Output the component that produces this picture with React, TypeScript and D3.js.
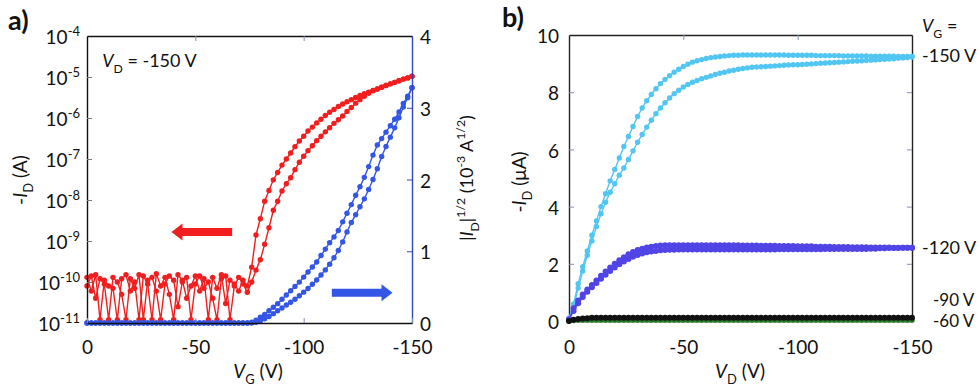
import React, { useEffect, useRef } from 'react';
import * as d3 from 'd3';

// sweep voltages (V), 2 V steps, used for V_G in a) and V_D in b)
const sweep = [
  0, -2, -4, -6, -8, -10, -12, -14, -16, -18, -20, -22, -24, -26, -28, -30, -32, -34, -36, -38,
  -40, -42, -44, -46, -48, -50, -52, -54, -56, -58, -60, -62, -64, -66, -68, -70, -72, -74, -76, -78,
  -80, -82, -84, -86, -88, -90, -92, -94, -96, -98, -100, -102, -104, -106, -108, -110, -112, -114, -116, -118,
  -120, -122, -124, -126, -128, -130, -132, -134, -136, -138, -140, -142, -144, -146, -148, -150,
];

// a) -I_D (A), forward and reverse sweeps
const idFwd = [
  1.3e-10, 6e-11, 1.5e-10, 1.2e-11, 1.1e-10, 8e-11, 7e-11, 1.2e-11, 1.2e-10, 1.5e-10, 6e-11, 1e-10, 1.2e-11,
  1.4e-10, 9e-11, 1.2e-11, 1.6e-10, 8e-11, 1.3e-10, 5e-11, 1.2e-11, 1.5e-10, 1.1e-10, 4e-11, 8e-11, 1.4e-10,
  6e-11, 1.2e-10, 1.2e-11, 1.3e-10, 7e-11, 1.5e-10, 3e-11, 1.1e-10, 9e-11, 6e-11, 1.1e-10,
  8e-11, 2.3e-10, 1.4e-9, 3.5e-9, 9.3e-9, 1.7e-8, 3.1e-8, 4.7e-8, 7.1e-8, 1.0e-7, 1.4e-7, 2.0e-7, 2.75e-7,
  3.6e-7, 4.8e-7, 6.0e-7, 7.6e-7, 9.3e-7, 1.15e-6, 1.38e-6, 1.62e-6, 1.9e-6, 2.2e-6, 2.5e-6, 2.8e-6, 3.16e-6,
  3.55e-6, 3.9e-6, 4.27e-6, 4.7e-6, 5.1e-6, 5.6e-6, 6.2e-6, 6.8e-6, 7.4e-6, 8.1e-6, 8.9e-6, 9.5e-6, 1.05e-5,
];
const idRev = [
  8e-11, 1.4e-10, 4e-11, 1.2e-10, 9e-11, 1.2e-11, 1.3e-10, 1e-10, 5e-11, 1.2e-11, 1.2e-10, 7e-11, 1.5e-10,
  1.2e-11, 1.1e-10, 1.3e-10, 6e-11, 1.2e-11, 9e-11, 1.4e-10, 1.1e-10, 2.5e-11, 1e-10, 1.3e-10, 1.2e-11, 9e-11,
  1.4e-10, 7e-11, 1e-10, 4e-11, 1.2e-11, 1.2e-10, 1.4e-10, 1.2e-11, 8e-11, 1.3e-10, 9e-11,
  5.6e-11, 1.0e-10, 1.95e-10, 3.5e-10, 8.3e-10, 2.1e-9, 5.6e-9, 9.3e-9, 1.66e-8, 2.5e-8, 3.5e-8, 5.5e-8, 8.3e-8,
  1.17e-7, 1.6e-7, 2.1e-7, 2.8e-7, 3.6e-7, 4.6e-7, 5.8e-7, 7.4e-7, 9.1e-7, 1.12e-6, 1.45e-6, 1.8e-6, 2.3e-6,
  2.8e-6, 3.4e-6, 4.0e-6, 4.6e-6, 5.1e-6, 5.6e-6, 6.2e-6, 6.8e-6, 7.4e-6, 8.1e-6, 8.9e-6, 9.5e-6, 1.05e-5,
];

// a) |I_D|^1/2 (10^-3 A^1/2)
const sqrtFwd = [
  0, 0, 0, 0, 0, 0, 0, 0, 0, 0, 0, 0, 0, 0, 0, 0, 0, 0, 0, 0, 0, 0, 0, 0, 0, 0, 0, 0, 0, 0, 0, 0, 0, 0, 0, 0, 0, 0,
  0.01, 0.04, 0.08, 0.12, 0.17, 0.22, 0.27, 0.33, 0.39, 0.45, 0.51, 0.57, 0.64, 0.71, 0.78, 0.85, 0.94, 1.03, 1.12,
  1.2, 1.29, 1.41, 1.53, 1.65, 1.78, 1.9, 2.03, 2.18, 2.34, 2.48, 2.57, 2.66, 2.75, 2.84, 2.94, 3.06, 3.16, 3.28,
];
const sqrtRev = [
  0, 0, 0, 0, 0, 0, 0, 0, 0, 0, 0, 0, 0, 0, 0, 0, 0, 0, 0, 0, 0, 0, 0, 0, 0, 0, 0, 0, 0, 0, 0, 0, 0, 0, 0, 0, 0, 0, 0,
  0.01, 0.03, 0.06, 0.09, 0.13, 0.17, 0.21, 0.25, 0.29, 0.33, 0.38, 0.43, 0.48, 0.54, 0.6, 0.67, 0.74, 0.82, 0.91,
  1.01, 1.13, 1.27, 1.4, 1.51, 1.62, 1.73, 1.86, 2.0, 2.15, 2.32, 2.46, 2.59, 2.72, 2.86, 3.01, 3.14, 3.28,
];

// b) -I_D (uA) output curves
const vg150Fwd = [
  0.1, 0.6, 1.3, 1.9, 2.45, 3.0, 3.5, 4.0, 4.45, 4.9, 5.3, 5.7, 6.1, 6.45, 6.8, 7.15, 7.45, 7.7, 7.92, 8.12,
  8.3, 8.45, 8.58, 8.7, 8.8, 8.9, 8.98, 9.05, 9.1, 9.14, 9.18, 9.21, 9.23, 9.25, 9.27, 9.28,
  9.29, 9.29, 9.3, 9.3, 9.3, 9.3, 9.3, 9.3, 9.3, 9.3, 9.3, 9.3, 9.29, 9.29, 9.29, 9.29, 9.29, 9.29, 9.28, 9.28,
  9.28, 9.28, 9.28, 9.28, 9.27, 9.27, 9.27, 9.27, 9.27, 9.27, 9.26, 9.26, 9.26, 9.26, 9.26, 9.26, 9.25, 9.25, 9.25, 9.25,
];
const vg150Rev = [
  0.05, 0.5, 1.15, 1.75, 2.3, 2.8, 3.3, 3.75, 4.15, 4.5, 4.8, 5.1, 5.35, 5.65, 5.95, 6.25, 6.52, 6.78, 7.02, 7.25,
  7.45, 7.63, 7.8, 7.95, 8.07, 8.18, 8.27, 8.35, 8.41, 8.47, 8.52, 8.57, 8.62, 8.66, 8.7, 8.74, 8.77, 8.8, 8.83, 8.85,
  8.87, 8.88, 8.89, 8.9, 8.91, 8.92, 8.93, 8.94, 8.95, 8.96, 8.96, 8.97, 8.98, 8.99, 9.0, 9.01, 9.02, 9.03, 9.04, 9.05,
  9.06, 9.07, 9.08, 9.09, 9.1, 9.11, 9.12, 9.13, 9.14, 9.15, 9.16, 9.17, 9.19, 9.2, 9.21, 9.23,
];
const vg120Fwd = [
  0.05, 0.45, 0.72, 0.93, 1.1, 1.26, 1.42, 1.58, 1.73, 1.87, 2.0, 2.12, 2.23, 2.33, 2.41, 2.48, 2.53, 2.57, 2.6, 2.62,
  2.64, 2.65, 2.65, 2.65, 2.65, 2.65, 2.65, 2.65, 2.65, 2.65, 2.65, 2.65, 2.65, 2.65, 2.65, 2.65,
  2.65, 2.65, 2.64, 2.64, 2.64, 2.64, 2.63, 2.63, 2.63, 2.63, 2.62, 2.62, 2.62, 2.62, 2.61, 2.61, 2.61, 2.61, 2.6, 2.6,
  2.6, 2.6, 2.59, 2.59, 2.59, 2.59, 2.58, 2.58, 2.58, 2.58, 2.57, 2.57, 2.57, 2.57, 2.57, 2.56, 2.56, 2.56, 2.56, 2.56,
];
const vg120Rev = [
  0.05, 0.35, 0.62, 0.84, 1.02, 1.18, 1.33, 1.48, 1.62, 1.75, 1.87, 1.98, 2.08, 2.17, 2.25, 2.31, 2.36, 2.4, 2.43, 2.45,
  2.47, 2.48, 2.49, 2.49, 2.5, 2.5, 2.5, 2.5, 2.5, 2.5, 2.5, 2.5, 2.5, 2.5, 2.5, 2.5,
  2.5, 2.5, 2.5, 2.5, 2.5, 2.5, 2.5, 2.5, 2.5, 2.5, 2.51, 2.51, 2.51, 2.51, 2.51, 2.51, 2.51, 2.51, 2.51, 2.51,
  2.52, 2.52, 2.52, 2.52, 2.52, 2.52, 2.52, 2.52, 2.52, 2.52, 2.53, 2.53, 2.54, 2.54, 2.55, 2.55, 2.55, 2.56, 2.56, 2.56,
];
const vg90 = [
  0, 0.04, 0.07, 0.09, 0.1, 0.11, 0.11, 0.11, 0.11, 0.11, 0.11, 0.11, 0.11, 0.11, 0.11, 0.11, 0.11, 0.11, 0.11, 0.11,
  0.11, 0.11, 0.11, 0.11, 0.11, 0.11, 0.11, 0.11, 0.11, 0.11, 0.11, 0.11, 0.11, 0.11, 0.11, 0.11, 0.11, 0.11, 0.11, 0.11,
  0.11, 0.11, 0.11, 0.11, 0.11, 0.11, 0.11, 0.11, 0.11, 0.11, 0.11, 0.11, 0.11, 0.11, 0.11, 0.11, 0.11, 0.11, 0.11, 0.11,
  0.11, 0.11, 0.11, 0.11, 0.11, 0.11, 0.11, 0.11, 0.11, 0.11, 0.11, 0.11, 0.11, 0.11, 0.11, 0.11,
];
const vg60 = [
  0, 0.02, 0.03, 0.03, 0.03, 0.03, 0.03, 0.03, 0.03, 0.03, 0.03, 0.03, 0.03, 0.03, 0.03, 0.03, 0.03, 0.03, 0.03, 0.03,
  0.03, 0.03, 0.03, 0.03, 0.03, 0.03, 0.03, 0.03, 0.03, 0.03, 0.03, 0.03, 0.03, 0.03, 0.03, 0.03, 0.03, 0.03, 0.03, 0.03,
  0.03, 0.03, 0.03, 0.03, 0.03, 0.03, 0.03, 0.03, 0.03, 0.03, 0.03, 0.03, 0.03, 0.03, 0.03, 0.03, 0.03, 0.03, 0.03, 0.03,
  0.03, 0.03, 0.03, 0.03, 0.03, 0.03, 0.03, 0.03, 0.03, 0.03, 0.03, 0.03, 0.03, 0.03, 0.03, 0.03,
];

const decades = [1e-11, 1e-10, 1e-9, 1e-8, 1e-7, 1e-6, 1e-5, 1e-4];
const sqrtTicks = [0, 1, 2, 3, 4];
const vTicks = [0, -50, -100, -150];
const ibTicks = [0, 2, 4, 6, 8, 10];

const FONT = "Lato, 'Open Sans', sans-serif";
const FS = 19;
const RED = '#f01e1e';
const BLUE = '#3456e6';
const CYAN = '#52c6f2';
const PURPLE = '#5044e6';

// text with italic / sub / sup runs
function rich(sel, parts, size) {
  let shift = 0;
  parts.forEach(([t, k]) => {
    const target = k === 'sub' ? size * 0.32 : k === 'sup' ? -size * 0.42 : 0;
    const ts = sel.append('tspan').attr('dy', target - shift).text(t);
    shift = target;
    if (k === 'sub' || k === 'sup') ts.attr('font-size', size * 0.68);
    if (k === 'i') ts.attr('font-style', 'italic');
  });
}

function series(g, xs, ys, x, y, color, r) {
  const pts = xs.map((v, i) => [x(v), y(ys[i])]);
  g.append('path')
    .attr('d', d3.line()(pts))
    .attr('fill', 'none')
    .attr('stroke', color)
    .attr('stroke-width', 1.4);
  g.append('g')
    .selectAll('circle')
    .data(pts)
    .join('circle')
    .attr('cx', d => d[0])
    .attr('cy', d => d[1])
    .attr('r', r)
    .attr('fill', color);
}

function arrow(x0, x1, yc) {
  const dir = Math.sign(x1 - x0);
  const hb = x1 - dir * 11;
  return [[x0, yc - 4], [hb, yc - 4], [hb, yc - 8.5], [x1, yc], [hb, yc + 8.5], [hb, yc + 4], [x0, yc + 4]];
}

function styleAxis(g, domainColor, tickColor) {
  g.attr('font-family', FONT).attr('font-size', FS);
  g.select('.domain').attr('stroke', domainColor).attr('stroke-width', 1.4);
  g.selectAll('.tick line').attr('stroke', tickColor);
  g.selectAll('.tick text').attr('fill', '#111');
}

const App = () => {
  const ref = useRef(null);

  useEffect(() => {
    const svg = d3.select(ref.current);
    svg.selectAll('*').remove();

    // ---------- panel a ----------
    const xa = d3.scaleLinear().domain([0, -150]).range([87, 412]);
    const ya = d3.scaleLog().domain([1e-11, 1e-4]).range([323, 36]);
    const yr = d3.scaleLinear().domain([0, 4]).range([323, 36]);

    const pa = svg.append('g');
    series(pa, sweep, idFwd, xa, ya, RED, 2.7);
    series(pa, sweep, idRev, xa, ya, RED, 2.7);
    series(pa, sweep, sqrtFwd, xa, yr, BLUE, 2.7);
    series(pa, sweep, sqrtRev, xa, yr, BLUE, 2.7);

    pa.append('polygon')
      .attr('points', arrow(xa(-67), xa(-39), ya(1.66e-9)).join(' '))
      .attr('fill', RED);
    pa.append('polygon')
      .attr('points', arrow(xa(-113), xa(-141), yr(0.42)).join(' '))
      .attr('fill', BLUE);

    svg.append('g')
      .attr('transform', 'translate(87,0)')
      .call(d3.axisLeft(ya).tickValues(decades).tickSize(-5).tickSizeOuter(0).tickPadding(7))
      .call(g => styleAxis(g, '#111', '#777'))
      .call(g => g.selectAll('.tick text').attr('dy', '0.42em').text(null)
        .each(function (d) {
          const t = d3.select(this);
          t.append('tspan').text('10');
          t.append('tspan').attr('dy', -8).attr('font-size', 13).text(String(Math.round(Math.log10(d))));
        }));

    svg.append('g')
      .attr('transform', 'translate(412,0)')
      .call(d3.axisRight(yr).tickValues(sqrtTicks).tickSize(-5).tickSizeOuter(0).tickPadding(8).tickFormat(d => String(d)))
      .call(g => styleAxis(g, '#3347c4', '#3347c4'))
      .call(g => g.selectAll('.tick text').attr('dy', '0.4em'));

    svg.append('g')
      .attr('transform', 'translate(0,323)')
      .call(d3.axisBottom(xa).tickValues(vTicks).tickSize(-5).tickSizeOuter(0).tickPadding(18).tickFormat(d => String(d)))
      .call(g => styleAxis(g, '#111', '#8090b0'));

    svg.append('g')
      .attr('transform', 'translate(0,36)')
      .call(d3.axisTop(xa).tickValues([-50, -100]).tickSize(-5).tickSizeOuter(0).tickFormat(() => ''))
      .call(g => styleAxis(g, '#111', '#8090b0'));

    svg.append('text')
      .attr('transform', 'translate(27,180) rotate(-90)')
      .attr('text-anchor', 'middle').attr('font-family', FONT).attr('font-size', FS).attr('fill', '#111')
      .call(t => rich(t, [['-'], ['I', 'i'], ['D', 'sub'], [' (A)']], FS));

    svg.append('text')
      .attr('x', 258).attr('y', 378)
      .attr('text-anchor', 'middle').attr('font-family', FONT).attr('font-size', FS).attr('fill', '#111')
      .call(t => rich(t, [['V', 'i'], ['G', 'sub'], [' (V)']], FS));

    svg.append('text')
      .attr('transform', 'translate(473,178) rotate(-90)')
      .attr('text-anchor', 'middle').attr('font-family', FONT).attr('font-size', 18).attr('fill', '#111')
      .call(t => rich(t, [['|'], ['I', 'i'], ['D', 'sub'], ['|'], ['1/2', 'sup'], [' (10'], ['-3', 'sup'], [' A'], ['1/2', 'sup'], [')']], 18));

    svg.append('text')
      .attr('x', xa(-7)).attr('y', 67)
      .attr('font-family', FONT).attr('font-size', 18).attr('fill', '#111')
      .call(t => rich(t, [['V', 'i'], ['D', 'sub'], [' = -150 V']], 18));

    svg.append('text')
      .attr('x', 8).attr('y', 30)
      .attr('font-family', FONT).attr('font-size', 27).attr('font-weight', 'bold').attr('fill', '#111')
      .text('a)');

    // ---------- panel b ----------
    const xb = d3.scaleLinear().domain([0, -150]).range([569, 912]);
    const yb = d3.scaleLinear().domain([0, 10]).range([321, 35]);

    svg.append('g')
      .attr('transform', 'translate(569,0)')
      .call(d3.axisLeft(yb).tickValues(ibTicks).tickSize(-5).tickSizeOuter(0).tickPadding(10))
      .call(g => styleAxis(g, '#222', '#8090b0'))
      .call(g => g.selectAll('.tick text').attr('dy', '0.4em'));

    svg.append('g')
      .attr('transform', 'translate(912,0)')
      .call(d3.axisRight(yb).tickValues([2, 4, 6, 8]).tickSize(-5).tickSizeOuter(0).tickFormat(() => ''))
      .call(g => styleAxis(g, '#222', '#8090b0'));

    svg.append('g')
      .attr('transform', 'translate(0,321)')
      .call(d3.axisBottom(xb).tickValues(vTicks).tickSize(-5).tickSizeOuter(0).tickPadding(20).tickFormat(d => String(d)))
      .call(g => styleAxis(g, '#222', '#8090b0'));

    svg.append('g')
      .attr('transform', 'translate(0,35)')
      .call(d3.axisTop(xb).tickValues([-50, -100]).tickSize(-5).tickSizeOuter(0).tickFormat(() => ''))
      .call(g => styleAxis(g, '#222', '#8090b0'));

    const pb = svg.append('g');
    series(pb, sweep, vg150Fwd, xb, yb, CYAN, 2.7);
    series(pb, sweep, vg150Rev, xb, yb, CYAN, 2.7);
    series(pb, sweep, vg120Fwd, xb, yb, PURPLE, 3);
    series(pb, sweep, vg120Rev, xb, yb, PURPLE, 3);
    series(pb, sweep, vg60, xb, yb, '#2c7a2c', 2.7);
    series(pb, sweep, vg90, xb, yb, '#111', 3);

    svg.append('text')
      .attr('transform', 'translate(526,182) rotate(-90)')
      .attr('text-anchor', 'middle').attr('font-family', FONT).attr('font-size', FS).attr('fill', '#111')
      .call(t => rich(t, [['-'], ['I', 'i'], ['D', 'sub'], [' (\u03bcA)']], FS));

    svg.append('text')
      .attr('x', 740).attr('y', 378)
      .attr('text-anchor', 'middle').attr('font-family', FONT).attr('font-size', FS).attr('fill', '#111')
      .call(t => rich(t, [['V', 'i'], ['D', 'sub'], [' (V)']], FS));

    svg.append('text')
      .attr('x', 502).attr('y', 27)
      .attr('font-family', FONT).attr('font-size', 27).attr('font-weight', 'bold').attr('fill', '#111')
      .text('b)');

    const lab = svg.append('g').attr('font-family', FONT).attr('font-size', 17).attr('fill', '#111');
    lab.append('text').attr('x', 922).attr('y', 32).attr('font-size', 18)
      .call(t => rich(t, [['V', 'i'], ['G', 'sub'], [' =']], 18));
    lab.append('text').attr('x', 922).attr('y', yb(9.25) + 6).attr('font-size', 18).text('-150 V');
    lab.append('text').attr('x', 922).attr('y', yb(2.55) + 6).attr('font-size', 18).text('-120 V');
    lab.append('text').attr('x', 933).attr('y', yb(0.11) - 12).text('-90 V');
    lab.append('text').attr('x', 933).attr('y', yb(0.03) + 7).text('-60 V');
  }, []);

  return (
    <svg
      ref={ref}
      width={980}
      height={392}
      viewBox="0 0 980 392"
      style={{ position: 'absolute', left: 0, top: 0, background: '#fff' }}
    />
  );
};

export default App;
